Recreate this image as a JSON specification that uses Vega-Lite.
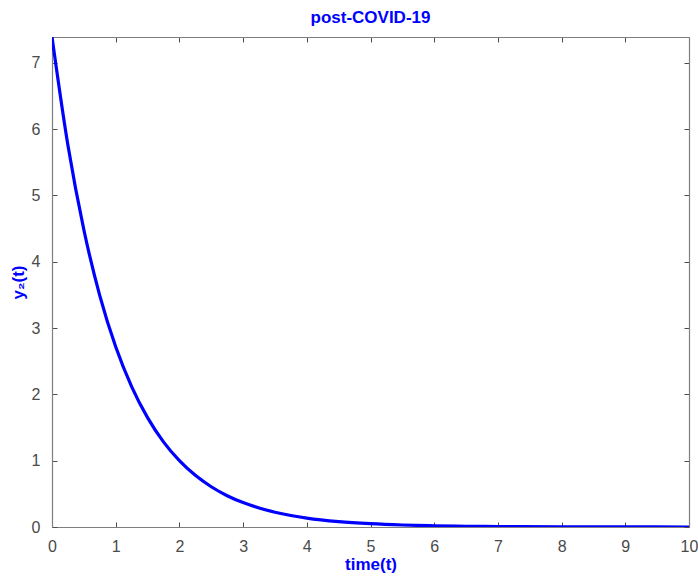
{
  "$schema": "https://vega.github.io/schema/vega-lite/v6.json",
  "width": 637,
  "height": 490,
  "autosize": "none",
  "padding": {"left": 52, "top": 37, "right": 9, "bottom": 50},
  "background": "white",
  "title": {
    "text": "post-COVID-19",
    "color": "#0000ff",
    "font": "Liberation Sans",
    "fontSize": 17,
    "fontWeight": "bold",
    "offset": 10
  },
  "config": {
    "view": {"stroke": null},
    "axis": {
      "grid": false,
      "domainColor": "#7f7f7f",
      "domainWidth": 1.2,
      "tickColor": "#4d4d4d",
      "tickSize": -5,
      "labelFont": "Liberation Sans",
      "labelFontSize": 16,
      "labelColor": "#4a4a4a",
      "titleFont": "Liberation Sans",
      "titleFontSize": 17,
      "titleFontWeight": "bold",
      "titleColor": "#0000ff"
    }
  },
  "data": {
    "values": [
      {"t": 0, "y": 7.389},
      {"t": 0.25, "y": 5.755},
      {"t": 0.5, "y": 4.482},
      {"t": 0.75, "y": 3.49},
      {"t": 1, "y": 2.718},
      {"t": 1.25, "y": 2.117},
      {"t": 1.5, "y": 1.649},
      {"t": 1.75, "y": 1.284},
      {"t": 2, "y": 1.0},
      {"t": 2.25, "y": 0.779},
      {"t": 2.5, "y": 0.607},
      {"t": 2.75, "y": 0.472},
      {"t": 3, "y": 0.368},
      {"t": 3.25, "y": 0.287},
      {"t": 3.5, "y": 0.223},
      {"t": 3.75, "y": 0.174},
      {"t": 4, "y": 0.135},
      {"t": 4.5, "y": 0.082},
      {"t": 5, "y": 0.05},
      {"t": 5.5, "y": 0.03},
      {"t": 6, "y": 0.018},
      {"t": 6.5, "y": 0.011},
      {"t": 7, "y": 0.0067},
      {"t": 8, "y": 0.0025},
      {"t": 9, "y": 0.0009},
      {"t": 10, "y": 0.0003}
    ]
  },
  "layer": [
    {
      "mark": {"type": "line", "color": "#0000ff", "strokeWidth": 3.2, "interpolate": "monotone", "clip": true},
      "encoding": {
        "x": {
          "field": "t", "type": "quantitative",
          "scale": {"domain": [0, 10], "nice": false},
          "axis": {"orient": "bottom", "values": [0,1,2,3,4,5,6,7,8,9,10], "title": "time(t)", "labelPadding": 16, "titlePadding": 2, "labelFlush": false}
        },
        "y": {
          "field": "y", "type": "quantitative",
          "scale": {"domain": [0, 7.389], "nice": false, "zero": true},
          "axis": {"orient": "left", "values": [0,1,2,3,4,5,6,7], "title": "y₂(t)", "labelPadding": 17, "titlePadding": 4, "labelFlush": false}
        }
      }
    },
    {
      "mark": {"type": "line", "strokeOpacity": 0},
      "encoding": {
        "x": {
          "field": "t", "type": "quantitative",
          "scale": {"domain": [0, 10], "nice": false},
          "axis": {"orient": "top", "values": [0,1,2,3,4,5,6,7,8,9,10], "labels": false, "title": null}
        },
        "y": {
          "field": "y", "type": "quantitative",
          "scale": {"domain": [0, 7.389], "nice": false, "zero": true},
          "axis": {"orient": "right", "values": [0,1,2,3,4,5,6,7], "labels": false, "title": null}
        }
      }
    }
  ],
  "resolve": {"axis": {"x": "independent", "y": "independent"}}
}
